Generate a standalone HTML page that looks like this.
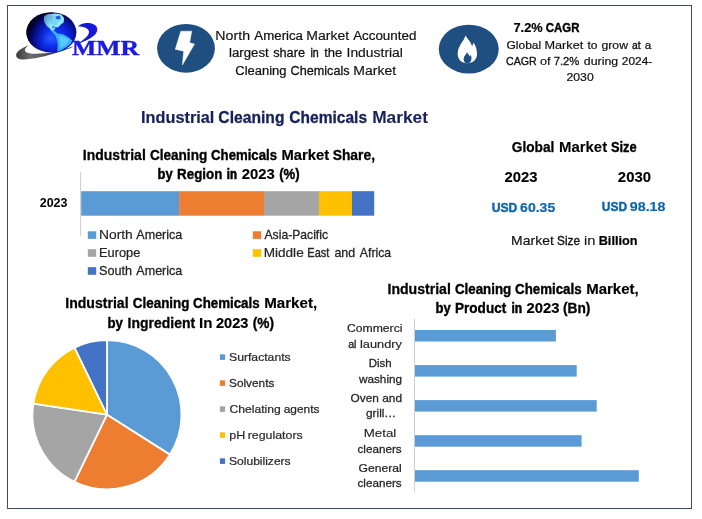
<!DOCTYPE html>
<html lang="en"><head><meta charset="utf-8"><title>Industrial Cleaning Chemicals Market</title>
<style>
html,body{margin:0;padding:0;background:#fff;}
body{width:702px;height:519px;overflow:hidden;}
svg{display:block;font-family:"Liberation Sans",sans-serif;}
</style></head><body>
<svg width="702" height="519" viewBox="0 0 702 519">
<rect width="702" height="519" fill="#fff"/>
<rect x="7.5" y="5.5" width="684" height="503" fill="none" stroke="#3b4d63" stroke-width="1"/>
<defs>
<radialGradient id="gl" cx="0.54" cy="0.56" r="0.56" fx="0.5" fy="0.66">
<stop offset="0" stop-color="#2a5cff"/><stop offset="0.3" stop-color="#1238f4"/><stop offset="0.62" stop-color="#0a1ed2"/><stop offset="0.82" stop-color="#07108c"/><stop offset="0.95" stop-color="#030638"/><stop offset="1" stop-color="#010214"/>
</radialGradient>
<linearGradient id="gd" x1="0" y1="0.2" x2="1" y2="0.55"><stop offset="0" stop-color="#000010" stop-opacity="1"/><stop offset="0.1" stop-color="#000018" stop-opacity="0.9"/><stop offset="0.28" stop-color="#000040" stop-opacity="0.4"/><stop offset="0.48" stop-color="#000050" stop-opacity="0"/></linearGradient>
<linearGradient id="sw" x1="0" y1="0" x2="1" y2="0"><stop offset="0" stop-color="#3a3a3a"/><stop offset="0.25" stop-color="#6e6e6e"/><stop offset="0.55" stop-color="#4c4c54"/><stop offset="0.8" stop-color="#2c2c80"/><stop offset="1" stop-color="#1a1ad0"/></linearGradient>
<clipPath id="gc"><ellipse cx="51.4" cy="32.4" rx="25" ry="20.2"/></clipPath>
</defs>
<g id="logo">
<path d="M28.2 45.2 C22 48 15.6 51.5 16.2 55.8 C16.6 58.6 19.5 59.6 23.5 59.5 C32 59.3 46 56.6 60.5 51.6 C65 50 69 48.6 72.6 47 L72.4 46.4 C64 49.4 52 52.6 44.4 53.3 C38 53.9 33 53.9 29.5 53.2 C26 52.5 24.4 51 25 49.4 C25.6 47.8 27 46.4 28.2 45.2Z" fill="url(#sw)"/>
<ellipse cx="51.4" cy="32.4" rx="25" ry="20.2" fill="url(#gl)"/>
<g clip-path="url(#gc)">
<path d="M44.4 16.1 L47.6 14.3 L55.2 13.6 L61.4 14.6 L64.2 18.2 L63.6 22.4 L60.6 24.8 L58.4 27.2 L55.2 27.4 L54.6 30 L51.9 31.2 L49.8 28.5 L46.5 25.8 L44.4 22 L43.8 18.8Z" fill="#8eeaff"/>
<path d="M50 16.2 L56 15.4 L60.4 17 L61.2 20.6 L58 22 L56.6 24.6 L53.6 25.4 L50.4 22.4 L48.6 19Z" fill="#52b6f6" opacity="0.38"/>
<path d="M55.6 16.4 L59.6 15.6 L61 18.2 L58.6 19.6 L56 18.8Z" fill="#0f2fc0" opacity="0.75"/>
<path d="M51.6 26.4 L54.6 26 L55 28 L52.6 28.4Z" fill="#1440d0" opacity="0.6"/>
<path d="M53 29.6 L57.3 33.6 L62.7 34.2 L68.1 37 L72.2 40.4 L70.8 43.8 L65.9 47.6 L60.5 50.6 L57.3 51.4 L57.8 44.7 L56.8 39.3 L55.4 35.5 L51.6 31.4Z" fill="#36b0ff"/>
<path d="M59 36 L64 36.4 L68.6 39.6 L68 43 L63.6 46.4 L60.4 47.6 L60 41Z" fill="#5fd0ff" opacity="0.8"/>
<rect x="26" y="12" width="51" height="42" fill="url(#gd)"/>
</g>
<path d="M78.1 26.6 C80 23.8 84 22.7 88.5 23 C94.2 23.4 97.9 26.2 97.2 30.4 C96.4 34.8 90.5 38.6 83.6 41.6 C80 43.2 76 45.2 72.5 46.9 C78 43.5 83 40.5 86.4 37 C89.2 34 90 31 87.4 29 C85 27.2 81.6 26.6 78.1 26.6Z" fill="#1717da"/>
</g>
<text x="71.9" y="55.4" font-family="'Liberation Serif',serif" font-weight="700" font-size="22" fill="#1a1ae0" stroke="#1a1ae0" stroke-width="0.35" textLength="67.2" lengthAdjust="spacingAndGlyphs">MMR</text>
<ellipse cx="186" cy="48.3" rx="28.9" ry="24.4" fill="#1f4f80"/>
<path d="M180.8 31.2 L191.7 31.2 L189.6 42.8 L194.5 44.1 L182.4 65 L183.7 51.2 L175.3 49.3Z" fill="#fff" stroke="#fff" stroke-width="0.5" stroke-linejoin="round"/>
<ellipse cx="468.75" cy="49.1" rx="30" ry="24.4" fill="#1f4f80"/>
<path d="M465.6 35.6 C468 40 471 42 472 46 C473 44.5 473.5 43.5 473.5 42.5 C476 46 477 50 477 54 C477 59.5 473 63.2 467.3 63.2 C461.5 63.2 457.7 59.5 457.7 54 C457.7 46 463.5 42 465.6 35.6Z" fill="#fff"/>
<path d="M467 52.3 C468.2 54 469.3 55 469.8 56.5 C470.3 56 470.5 55.3 470.6 54.8 C471.5 56.5 471.6 58 471.4 59.5 C471 61.8 469.5 63.2 467.4 63.2 C465.2 63.2 463.6 61.6 463.6 59.2 C463.6 56 466 54.8 467 52.3Z" fill="#1f4f80"/>
<text y="39.5" font-size="12.51" fill="#111" stroke="#111"><tspan x="215.35" textLength="34.70" lengthAdjust="spacingAndGlyphs" stroke-width="0.14">North</tspan> <tspan x="254.38" textLength="48.62" lengthAdjust="spacingAndGlyphs" stroke-width="0.22">America</tspan> <tspan x="306.31" textLength="42.75" lengthAdjust="spacingAndGlyphs" stroke-width="0.15">Market</tspan> <tspan x="353.17" textLength="63.18" lengthAdjust="spacingAndGlyphs" stroke-width="0.21">Accounted</tspan></text>
<text y="57.3" font-size="12.51" fill="#111" stroke="#111"><tspan x="229.00" textLength="39.68" lengthAdjust="spacingAndGlyphs" stroke-width="0.22">largest</tspan> <tspan x="273.20" textLength="31.80" lengthAdjust="spacingAndGlyphs" stroke-width="0.26">share</tspan> <tspan x="310.43" textLength="8.28" lengthAdjust="spacingAndGlyphs" stroke-width="0.44">in</tspan> <tspan x="324.20" textLength="18.17" lengthAdjust="spacingAndGlyphs" stroke-width="0.23">the</tspan> <tspan x="346.53" textLength="56.42" lengthAdjust="spacingAndGlyphs" stroke-width="0.16">Industrial</tspan></text>
<text y="75.3" font-size="12.51" fill="#111" stroke="#111"><tspan x="235.30" textLength="51.21" lengthAdjust="spacingAndGlyphs" stroke-width="0.24">Cleaning</tspan> <tspan x="290.53" textLength="59.11" lengthAdjust="spacingAndGlyphs" stroke-width="0.27">Chemicals</tspan> <tspan x="353.31" textLength="42.75" lengthAdjust="spacingAndGlyphs" stroke-width="0.15">Market</tspan></text>
<text y="31.9" font-size="12.61" font-weight="700" fill="#000" stroke="#000"><tspan x="513.48" textLength="29.20" lengthAdjust="spacingAndGlyphs" stroke-width="0.19">7.2%</tspan> <tspan x="545.87" textLength="33.60" lengthAdjust="spacingAndGlyphs" stroke-width="0.39">CAGR</tspan></text>
<text y="48.5" font-size="11.40" fill="#111" stroke="#111"><tspan x="506.53" textLength="34.61" lengthAdjust="spacingAndGlyphs" stroke-width="0.23">Global</tspan> <tspan x="544.51" textLength="38.75" lengthAdjust="spacingAndGlyphs" stroke-width="0.17">Market</tspan> <tspan x="587.47" textLength="10.01" lengthAdjust="spacingAndGlyphs" stroke-width="0.23">to</tspan> <tspan x="601.50" textLength="26.45" lengthAdjust="spacingAndGlyphs" stroke-width="0.21">grow</tspan> <tspan x="632.08" textLength="8.57" lengthAdjust="spacingAndGlyphs" stroke-width="0.37">at</tspan> <tspan x="644.86" textLength="6.53" lengthAdjust="spacingAndGlyphs" stroke-width="0.25">a</tspan></text>
<text y="64.5" font-size="11.40" fill="#111" stroke="#111"><tspan x="505.96" textLength="30.76" lengthAdjust="spacingAndGlyphs" stroke-width="0.34">CAGR</tspan> <tspan x="539.97" textLength="10.59" lengthAdjust="spacingAndGlyphs" stroke-width="0.17">of</tspan> <tspan x="553.74" textLength="25.61" lengthAdjust="spacingAndGlyphs" stroke-width="0.29">7.2%</tspan> <tspan x="583.83" textLength="34.29" lengthAdjust="spacingAndGlyphs" stroke-width="0.20">during</tspan> <tspan x="621.86" textLength="30.38" lengthAdjust="spacingAndGlyphs" stroke-width="0.24">2024-</tspan></text>
<text y="81.2" font-size="11.40" fill="#111" stroke="#111"><tspan x="566.51" textLength="27.20" lengthAdjust="spacingAndGlyphs" stroke-width="0.21">2030</tspan></text>
<text y="122.5" font-size="16.10" font-weight="700" fill="#16215c" stroke="#16215c"><tspan x="141.10" textLength="73.27" lengthAdjust="spacingAndGlyphs" stroke-width="0.19">Industrial</tspan> <tspan x="218.35" textLength="66.12" lengthAdjust="spacingAndGlyphs" stroke-width="0.28">Cleaning</tspan> <tspan x="289.35" textLength="77.72" lengthAdjust="spacingAndGlyphs" stroke-width="0.30">Chemicals</tspan> <tspan x="372.17" textLength="55.89" lengthAdjust="spacingAndGlyphs" stroke-width="0.05">Market</tspan></text>
<text y="159.7" font-size="14.40" font-weight="700" fill="#000" stroke="#000"><tspan x="82.87" textLength="62.90" lengthAdjust="spacingAndGlyphs" stroke-width="0.28">Industrial</tspan> <tspan x="149.90" textLength="57.36" lengthAdjust="spacingAndGlyphs" stroke-width="0.33">Cleaning</tspan> <tspan x="211.07" textLength="65.93" lengthAdjust="spacingAndGlyphs" stroke-width="0.39">Chemicals</tspan> <tspan x="281.43" textLength="47.63" lengthAdjust="spacingAndGlyphs" stroke-width="0.17">Market</tspan> <tspan x="332.67" textLength="42.39" lengthAdjust="spacingAndGlyphs" stroke-width="0.29">Share,</tspan></text>
<text y="179.0" font-size="14.40" font-weight="700" fill="#000" stroke="#000"><tspan x="157.58" textLength="15.14" lengthAdjust="spacingAndGlyphs" stroke-width="0.42">by</tspan> <tspan x="177.07" textLength="45.31" lengthAdjust="spacingAndGlyphs" stroke-width="0.36">Region</tspan> <tspan x="226.73" textLength="10.14" lengthAdjust="spacingAndGlyphs" stroke-width="0.64">in</tspan> <tspan x="241.78" textLength="33.04" lengthAdjust="spacingAndGlyphs" stroke-width="0.16">2023</tspan> <tspan x="279.19" textLength="20.49" lengthAdjust="spacingAndGlyphs" stroke-width="0.39">(%)</tspan></text>
<text y="207.0" font-size="12.51" font-weight="700" fill="#000" stroke="#000"><tspan x="39.77" textLength="27.72" lengthAdjust="spacingAndGlyphs" stroke-width="0.01">2023</tspan></text>
<text y="238.8" font-size="12.40" fill="#262626" stroke="#262626"><tspan x="99.00" textLength="33.80" lengthAdjust="spacingAndGlyphs" stroke-width="0.16">North</tspan> <tspan x="136.32" textLength="46.01" lengthAdjust="spacingAndGlyphs" stroke-width="0.27">America</tspan></text>
<text y="256.8" font-size="12.40" fill="#262626" stroke="#262626"><tspan x="99.00" textLength="41.38" lengthAdjust="spacingAndGlyphs" stroke-width="0.24">Europe</tspan></text>
<text y="274.8" font-size="12.40" fill="#262626" stroke="#262626"><tspan x="99.00" textLength="33.05" lengthAdjust="spacingAndGlyphs" stroke-width="0.26">South</tspan> <tspan x="136.32" textLength="46.01" lengthAdjust="spacingAndGlyphs" stroke-width="0.27">America</tspan></text>
<text y="238.8" font-size="12.40" fill="#262626" stroke="#262626"><tspan x="264.52" textLength="63.50" lengthAdjust="spacingAndGlyphs" stroke-width="0.30">Asia-Pacific</tspan></text>
<text y="256.8" font-size="12.40" fill="#262626" stroke="#262626"><tspan x="263.67" textLength="40.05" lengthAdjust="spacingAndGlyphs" stroke-width="0.18">Middle</tspan> <tspan x="307.32" textLength="21.96" lengthAdjust="spacingAndGlyphs" stroke-width="0.40">East</tspan> <tspan x="334.47" textLength="20.66" lengthAdjust="spacingAndGlyphs" stroke-width="0.28">and</tspan> <tspan x="359.84" textLength="31.29" lengthAdjust="spacingAndGlyphs" stroke-width="0.29">Africa</tspan></text>
<text y="152.2" font-size="13.89" font-weight="700" fill="#000" stroke="#000"><tspan x="511.77" textLength="42.56" lengthAdjust="spacingAndGlyphs" stroke-width="0.25">Global</tspan> <tspan x="558.99" textLength="48.15" lengthAdjust="spacingAndGlyphs" stroke-width="0.07">Market</tspan> <tspan x="610.93" textLength="25.71" lengthAdjust="spacingAndGlyphs" stroke-width="0.36">Size</tspan></text>
<text y="181.9" font-size="14.31" font-weight="700" fill="#000" stroke="#000"><tspan x="504.54" textLength="32.89" lengthAdjust="spacingAndGlyphs" stroke-width="0.15">2023</tspan></text>
<text y="181.9" font-size="14.31" font-weight="700" fill="#000" stroke="#000"><tspan x="617.87" textLength="33.13" lengthAdjust="spacingAndGlyphs" stroke-width="0.14">2030</tspan></text>
<text y="212.2" font-size="12.60" font-weight="700" fill="#0e66ad" stroke="#0e66ad"><tspan x="491.77" textLength="25.60" lengthAdjust="spacingAndGlyphs" stroke-width="0.47">USD</tspan> <tspan x="520.14" textLength="35.05" lengthAdjust="spacingAndGlyphs" stroke-width="0.20">60.35</tspan></text>
<text y="211.2" font-size="12.60" font-weight="700" fill="#0e66ad" stroke="#0e66ad"><tspan x="601.82" textLength="25.19" lengthAdjust="spacingAndGlyphs" stroke-width="0.49">USD</tspan> <tspan x="629.89" textLength="35.55" lengthAdjust="spacingAndGlyphs" stroke-width="0.17">98.18</tspan></text>
<text y="245.0" font-size="12.72" fill="#111" stroke="#111"><tspan x="511.14" textLength="42.68" lengthAdjust="spacingAndGlyphs" stroke-width="0.17">Market</tspan> <tspan x="557.07" textLength="22.97" lengthAdjust="spacingAndGlyphs" stroke-width="0.36">Size</tspan> <tspan x="584.00" textLength="11.43" lengthAdjust="spacingAndGlyphs" stroke-width="0.11">in</tspan></text>
<text y="245.0" font-size="12.72" font-weight="700" fill="#000" stroke="#000"><tspan x="598.73" textLength="38.69" lengthAdjust="spacingAndGlyphs" stroke-width="0.23">Billion</tspan></text>
<text y="307.6" font-size="14.50" font-weight="700" fill="#000" stroke="#000"><tspan x="65.27" textLength="63.28" lengthAdjust="spacingAndGlyphs" stroke-width="0.28">Industrial</tspan> <tspan x="132.84" textLength="56.64" lengthAdjust="spacingAndGlyphs" stroke-width="0.37">Cleaning</tspan> <tspan x="193.07" textLength="66.51" lengthAdjust="spacingAndGlyphs" stroke-width="0.39">Chemicals</tspan> <tspan x="264.17" textLength="53.00" lengthAdjust="spacingAndGlyphs" stroke-width="0.13">Market,</tspan></text>
<text y="327.5" font-size="14.50" font-weight="700" fill="#000" stroke="#000"><tspan x="107.53" textLength="15.41" lengthAdjust="spacingAndGlyphs" stroke-width="0.40">by</tspan> <tspan x="127.60" textLength="67.49" lengthAdjust="spacingAndGlyphs" stroke-width="0.30">Ingredient</tspan> <tspan x="199.00" textLength="13.46" lengthAdjust="spacingAndGlyphs" stroke-width="0.13">In</tspan> <tspan x="216.05" textLength="32.26" lengthAdjust="spacingAndGlyphs" stroke-width="0.22">2023</tspan> <tspan x="252.73" textLength="21.30" lengthAdjust="spacingAndGlyphs" stroke-width="0.33">(%)</tspan></text>
<text y="360.8" font-size="11.55" fill="#2a2a2a" stroke="#2a2a2a"><tspan x="229.00" textLength="61.65" lengthAdjust="spacingAndGlyphs" stroke-width="0.23">Surfactants</tspan></text>
<text y="386.8" font-size="11.55" fill="#2a2a2a" stroke="#2a2a2a"><tspan x="229.00" textLength="45.35" lengthAdjust="spacingAndGlyphs" stroke-width="0.26">Solvents</tspan></text>
<text y="412.8" font-size="11.55" fill="#2a2a2a" stroke="#2a2a2a"><tspan x="229.48" textLength="51.33" lengthAdjust="spacingAndGlyphs" stroke-width="0.23">Chelating</tspan> <tspan x="283.72" textLength="35.80" lengthAdjust="spacingAndGlyphs" stroke-width="0.25">agents</tspan></text>
<text y="438.8" font-size="11.55" fill="#2a2a2a" stroke="#2a2a2a"><tspan x="229.34" textLength="15.98" lengthAdjust="spacingAndGlyphs" stroke-width="0.20">pH</tspan> <tspan x="247.71" textLength="55.04" lengthAdjust="spacingAndGlyphs" stroke-width="0.21">regulators</tspan></text>
<text y="464.8" font-size="11.55" fill="#2a2a2a" stroke="#2a2a2a"><tspan x="229.00" textLength="61.64" lengthAdjust="spacingAndGlyphs" stroke-width="0.24">Solubilizers</tspan></text>
<text y="293.5" font-size="14.50" font-weight="700" fill="#000" stroke="#000"><tspan x="387.50" textLength="63.33" lengthAdjust="spacingAndGlyphs" stroke-width="0.28">Industrial</tspan> <tspan x="454.93" textLength="56.31" lengthAdjust="spacingAndGlyphs" stroke-width="0.38">Cleaning</tspan> <tspan x="515.07" textLength="66.51" lengthAdjust="spacingAndGlyphs" stroke-width="0.39">Chemicals</tspan> <tspan x="586.17" textLength="52.50" lengthAdjust="spacingAndGlyphs" stroke-width="0.15">Market,</tspan></text>
<text y="313.2" font-size="14.50" font-weight="700" fill="#000" stroke="#000"><tspan x="435.62" textLength="15.18" lengthAdjust="spacingAndGlyphs" stroke-width="0.43">by</tspan> <tspan x="455.00" textLength="51.23" lengthAdjust="spacingAndGlyphs" stroke-width="0.35">Product</tspan> <tspan x="511.40" textLength="10.62" lengthAdjust="spacingAndGlyphs" stroke-width="0.58">in</tspan> <tspan x="526.56" textLength="32.94" lengthAdjust="spacingAndGlyphs" stroke-width="0.18">2023</tspan> <tspan x="562.93" textLength="27.45" lengthAdjust="spacingAndGlyphs" stroke-width="0.33">(Bn)</tspan></text>
<text y="332.1" font-size="11.66" fill="#262626" stroke="#262626"><tspan x="346.93" textLength="55.55" lengthAdjust="spacingAndGlyphs" stroke-width="0.23">Commerci</tspan></text>
<text y="347.6" font-size="11.66" fill="#262626" stroke="#262626"><tspan x="348.18" textLength="8.33" lengthAdjust="spacingAndGlyphs" stroke-width="0.36">al</tspan> <tspan x="359.93" textLength="42.04" lengthAdjust="spacingAndGlyphs" stroke-width="0.18">laundry</tspan></text>
<text y="366.8" font-size="11.66" fill="#262626" stroke="#262626"><tspan x="368.81" textLength="22.92" lengthAdjust="spacingAndGlyphs" stroke-width="0.30">Dish</tspan></text>
<text y="382.5" font-size="11.66" fill="#262626" stroke="#262626"><tspan x="359.00" textLength="43.06" lengthAdjust="spacingAndGlyphs" stroke-width="0.27">washing</tspan></text>
<text y="401.8" font-size="11.66" fill="#262626" stroke="#262626"><tspan x="350.64" textLength="28.28" lengthAdjust="spacingAndGlyphs" stroke-width="0.27">Oven</tspan> <tspan x="382.17" textLength="19.92" lengthAdjust="spacingAndGlyphs" stroke-width="0.26">and</tspan></text>
<text y="417.4" font-size="11.66" fill="#262626" stroke="#262626"><tspan x="366.04" textLength="30.12" lengthAdjust="spacingAndGlyphs" stroke-width="0.27">grill…</tspan></text>
<text y="437.0" font-size="11.66" fill="#262626" stroke="#262626"><tspan x="363.73" textLength="32.54" lengthAdjust="spacingAndGlyphs" stroke-width="0.14">Metal</tspan></text>
<text y="452.5" font-size="11.66" fill="#262626" stroke="#262626"><tspan x="357.50" textLength="44.16" lengthAdjust="spacingAndGlyphs" stroke-width="0.28">cleaners</tspan></text>
<text y="471.7" font-size="11.66" fill="#262626" stroke="#262626"><tspan x="358.49" textLength="43.20" lengthAdjust="spacingAndGlyphs" stroke-width="0.24">General</tspan></text>
<text y="487.4" font-size="11.66" fill="#262626" stroke="#262626"><tspan x="357.50" textLength="44.16" lengthAdjust="spacingAndGlyphs" stroke-width="0.28">cleaners</tspan></text>
<rect x="80.1" y="172" width="1" height="64" fill="#cccccc"/>
<rect x="81.2" y="191.2" width="97.9" height="24.5" fill="#5b9bd5"/>
<rect x="179.1" y="191.2" width="84.9" height="24.5" fill="#ed7d31"/>
<rect x="264" y="191.2" width="55.0" height="24.5" fill="#a5a5a5"/>
<rect x="319" y="191.2" width="32.9" height="24.5" fill="#ffc000"/>
<rect x="351.9" y="191.2" width="22.3" height="24.5" fill="#4472c4"/>
<rect x="87.8" y="231.3" width="8.4" height="7.6" fill="#5b9bd5"/>
<rect x="87.8" y="249.2" width="8.4" height="7.6" fill="#a5a5a5"/>
<rect x="87.8" y="267.2" width="8.4" height="7.6" fill="#4472c4"/>
<rect x="252.8" y="231.3" width="8.4" height="7.6" fill="#ed7d31"/>
<rect x="252.8" y="249.2" width="8.4" height="7.6" fill="#ffc000"/>
<path d="M107 414.7 L107.00 340.20 A74.5 74.5 0 0 1 169.90 454.62Z" fill="#5b9bd5" stroke="#fff" stroke-width="1.8" stroke-linejoin="round"/>
<path d="M107 414.7 L169.90 454.62 A74.5 74.5 0 0 1 74.46 481.72Z" fill="#ed7d31" stroke="#fff" stroke-width="1.8" stroke-linejoin="round"/>
<path d="M107 414.7 L74.46 481.72 A74.5 74.5 0 0 1 33.34 403.56Z" fill="#a5a5a5" stroke="#fff" stroke-width="1.8" stroke-linejoin="round"/>
<path d="M107 414.7 L33.34 403.56 A74.5 74.5 0 0 1 74.58 347.63Z" fill="#ffc000" stroke="#fff" stroke-width="1.8" stroke-linejoin="round"/>
<path d="M107 414.7 L74.58 347.63 A74.5 74.5 0 0 1 107.00 340.20Z" fill="#4472c4" stroke="#fff" stroke-width="1.8" stroke-linejoin="round"/>
<rect x="219.9" y="354.3" width="5.2" height="5.6" fill="#5b9bd5"/>
<rect x="219.9" y="380.3" width="5.2" height="5.6" fill="#ed7d31"/>
<rect x="219.9" y="406.3" width="5.2" height="5.6" fill="#a5a5a5"/>
<rect x="219.9" y="432.3" width="5.2" height="5.6" fill="#ffc000"/>
<rect x="219.9" y="458.3" width="5.2" height="5.6" fill="#4472c4"/>
<rect x="414" y="318.5" width="1" height="174" fill="#cfcfcf"/>
<rect x="415" y="330" width="140.9" height="11.5" fill="#5b9bd5"/>
<rect x="415" y="365.1" width="161.7" height="11.5" fill="#5b9bd5"/>
<rect x="415" y="400.1" width="181.7" height="11.5" fill="#5b9bd5"/>
<rect x="415" y="435.2" width="166.6" height="11.5" fill="#5b9bd5"/>
<rect x="415" y="470.2" width="223.8" height="11.5" fill="#5b9bd5"/>
</svg>
</body></html>
